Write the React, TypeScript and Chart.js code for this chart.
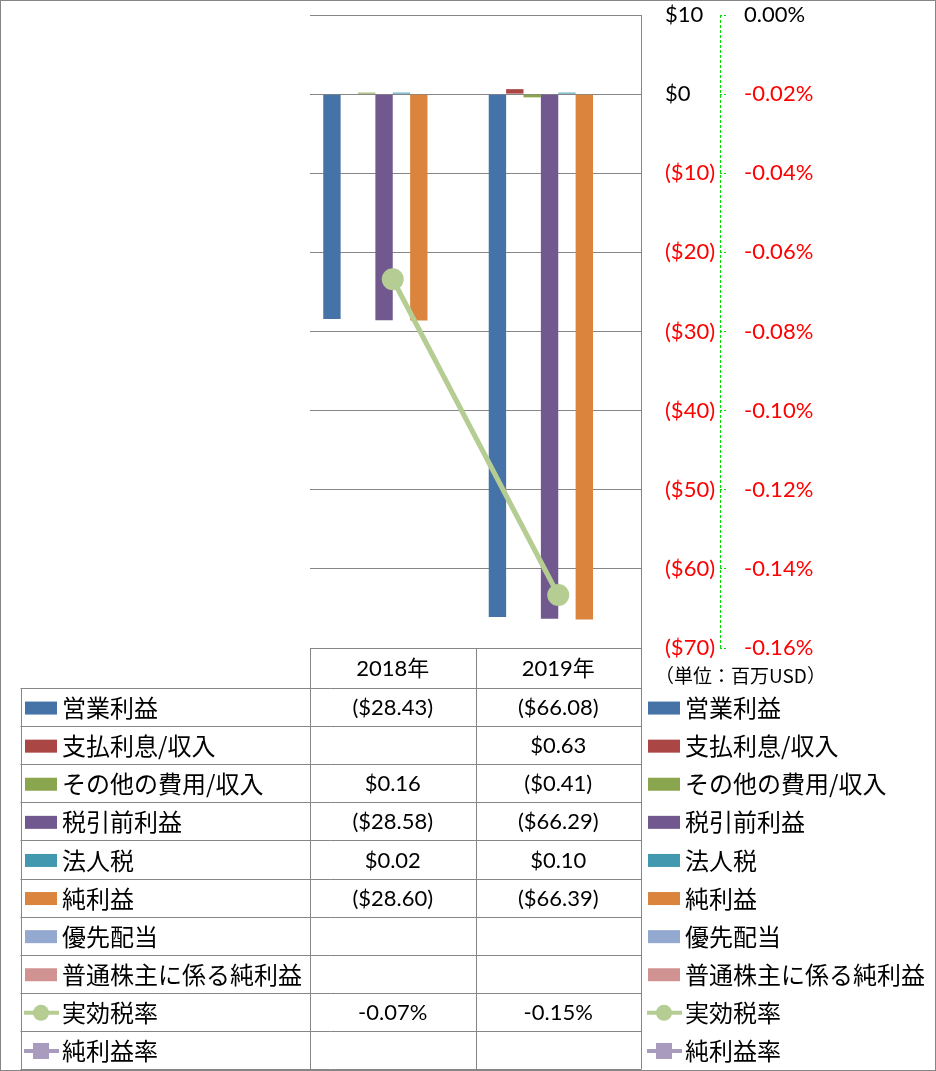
import React, { useEffect, useRef } from 'react';
import { Chart, registerables } from 'chart.js';

Chart.register(...registerables);

// ---- data ----
const categories = ['2018年', '2019年'];
const seriesNames = [
  '営業利益',
  '支払利息/収入',
  'その他の費用/収入',
  '税引前利益',
  '法人税',
  '純利益',
  '優先配当',
  '普通株主に係る純利益',
  '実効税率',
  '純利益率',
];
const operatingIncome: (number | null)[] = [-28.43, -66.08];
const interestIncome: (number | null)[] = [null, 0.63];
const otherExpense: (number | null)[] = [0.16, -0.41];
const preTaxIncome: (number | null)[] = [-28.58, -66.29];
const incomeTax: (number | null)[] = [0.02, 0.1];
const netIncome: (number | null)[] = [-28.6, -66.39];
const preferredDividends: (number | null)[] = [null, null];
const netIncomeCommon: (number | null)[] = [null, null];
const effectiveTaxRate: (number | null)[] = [-0.0668, -0.1466];
const netMargin: (number | null)[] = [null, null];

const usdAxis = { min: -70, max: 10, step: 10 };
const pctAxis = { min: -0.16, max: 0, step: 0.02 };
const unitLabel = '（単位：百万USD）';

// ---- styles ----
const colors = [
  '#4572A7',
  '#AA4643',
  '#89A54E',
  '#71588F',
  '#4198AF',
  '#DB843D',
  '#93A9CF',
  '#D19392',
  '#B5CC92',
  '#A99BBD',
];
const GRAY = '#868686';
const RED = '#FF0000';
const AXIS_GREEN = '#00E000';
const NUM_FONT = 'Lato, "Noto Sans CJK JP", sans-serif';
const JP_FONT = '"Noto Sans CJK JP", sans-serif';

const fmtUsd = (v: number | null) => {
  if (v === null || v === undefined) return '';
  const a = Math.abs(v).toFixed(2);
  return v < 0 ? `($${a})` : `$${a}`;
};
const fmtPct = (v: number | null) => {
  if (v === null || v === undefined) return '';
  return v.toFixed(2) + '%';
};

const barSeries = [
  operatingIncome,
  interestIncome,
  otherExpense,
  preTaxIncome,
  incomeTax,
  netIncome,
  preferredDividends,
  netIncomeCommon,
];
const lineSeries = [effectiveTaxRate, netMargin];

const tablePlugin = {
  id: 'dataTable',
  afterDraw(chart: any) {
    const ctx: CanvasRenderingContext2D = chart.ctx;
    const ca = chart.chartArea;
    const W = chart.width;
    const H = chart.height;
    const n = categories.length;
    const colW = (ca.right - ca.left) / n;
    const edges: number[] = [];
    for (let i = 0; i <= n; i++) edges.push(ca.left + colW * i);
    const headerTop = ca.bottom;
    const headerH = 40;
    const rowsTop = headerTop + headerH;
    const tableBottom = H - 2;
    const rowH = (tableBottom - rowsTop) / seriesNames.length;
    const tableLeft = 20.5;
    const px = (v: number) => Math.round(v) + 0.5;

    ctx.save();
    // dashed secondary axis line
    const s1 = chart.scales.y1;
    ctx.strokeStyle = AXIS_GREEN;
    ctx.lineWidth = 1;
    ctx.setLineDash([3, 2]);
    ctx.beginPath();
    ctx.moveTo(px(s1.left), s1.top);
    ctx.lineTo(px(s1.left), s1.bottom + 0.5);
    ctx.stroke();
    ctx.setLineDash([]);

    ctx.strokeStyle = GRAY;
    ctx.lineWidth = 1;
    // outer border
    ctx.strokeRect(0.5, 0.5, W - 1, H - 1);
    // table lines
    ctx.beginPath();
    edges.forEach((x) => {
      ctx.moveTo(px(x), headerTop);
      ctx.lineTo(px(x), px(tableBottom));
    });
    ctx.moveTo(px(tableLeft), px(rowsTop));
    ctx.lineTo(px(tableLeft), px(tableBottom));
    ctx.moveTo(edges[0], px(headerTop));
    ctx.lineTo(edges[n], px(headerTop));
    for (let r = 0; r <= seriesNames.length; r++) {
      const y = px(rowsTop + r * rowH);
      ctx.moveTo(tableLeft, y);
      ctx.lineTo(edges[n], y);
    }
    ctx.stroke();

    ctx.fillStyle = '#000';
    ctx.textBaseline = 'middle';
    // header
    ctx.textAlign = 'center';
    ctx.font = `22px ${NUM_FONT}`;
    categories.forEach((c, i) => {
      ctx.fillText(c, (edges[i] + edges[i + 1]) / 2, headerTop + headerH / 2 + 1);
    });

    // unit label
    ctx.textAlign = 'left';
    ctx.font = `19px ${JP_FONT}`;
    ctx.fillText(unitLabel, ca.right + 14, headerTop + 28);

    const drawIcon = (idx: number, x: number, cy: number) => {
      const col = colors[idx];
      if (idx < barSeries.length) {
        ctx.fillStyle = col;
        ctx.fillRect(x, cy - 6.5, 32, 13);
      } else {
        ctx.strokeStyle = col;
        ctx.lineWidth = 4;
        ctx.beginPath();
        ctx.moveTo(x - 1, cy);
        ctx.lineTo(x + 34, cy);
        ctx.stroke();
        ctx.fillStyle = col;
        if (idx === barSeries.length) {
          ctx.beginPath();
          ctx.arc(x + 16, cy, 8, 0, Math.PI * 2);
          ctx.fill();
        } else {
          ctx.fillRect(x + 8, cy - 8, 16, 16);
        }
      }
    };

    seriesNames.forEach((name, r) => {
      const cy = rowsTop + r * rowH + rowH / 2 + 1;
      drawIcon(r, 25, cy);
      drawIcon(r, ca.right + 7, cy);
      ctx.fillStyle = '#000';
      ctx.textAlign = 'left';
      ctx.font = `24px ${JP_FONT}`;
      ctx.fillText(name, 62, cy);
      ctx.fillText(name, ca.right + 44, cy);
      ctx.textAlign = 'center';
      ctx.font = `22px ${NUM_FONT}`;
      const isBar = r < barSeries.length;
      const vals = isBar ? barSeries[r] : lineSeries[r - barSeries.length];
      vals.forEach((v, i) => {
        const s = isBar ? fmtUsd(v) : fmtPct(v);
        ctx.fillText(s, (edges[i] + edges[i + 1]) / 2, cy);
      });
    });
    ctx.restore();
  },
};

export default function App() {
  const canvasRef = useRef<HTMLCanvasElement | null>(null);

  useEffect(() => {
    document.body.style.margin = '0';
    const canvas = canvasRef.current;
    if (!canvas) return;

    const barDatasets = barSeries.map((d, i) => ({
      type: 'bar' as const,
      label: seriesNames[i],
      data: d,
      backgroundColor: colors[i],
      yAxisID: 'y',
      barPercentage: 1,
      categoryPercentage: 0.84,
      minBarLength: 1.5,
      order: 2,
    }));
    const lineDatasets = lineSeries.map((d, j) => {
      const i = barSeries.length + j;
      return {
        type: 'line' as const,
        label: seriesNames[i],
        data: d,
        borderColor: colors[i],
        backgroundColor: colors[i],
        borderWidth: 5,
        pointRadius: 11,
        pointStyle: j === 0 ? 'circle' : 'rect',
        pointBorderWidth: 0,
        pointBackgroundColor: colors[i],
        yAxisID: 'y1',
        order: 1,
      };
    });

    const chart = new Chart(canvas, {
      type: 'bar',
      data: {
        labels: categories,
        datasets: [...barDatasets, ...lineDatasets] as any,
      },
      plugins: [tablePlugin],
      options: {
        responsive: false,
        animation: false,
        devicePixelRatio: 1,
        layout: { padding: { left: 310, top: 15, right: 0, bottom: 423 } },
        plugins: {
          legend: { display: false },
          tooltip: { enabled: false },
        },
        scales: {
          x: { display: false },
          y: {
            position: 'right',
            weight: 0,
            min: usdAxis.min,
            max: usdAxis.max,
            ticks: {
              stepSize: usdAxis.step,
              padding: 24,
              font: { family: NUM_FONT, size: 22 },
              color: (c: any) => (c.tick && c.tick.value < 0 ? RED : '#000'),
              callback: (v: any) => {
                const n = Number(v);
                return n < 0 ? `($${Math.abs(n)})` : `$${n}`;
              },
            },
            grid: { color: GRAY, drawTicks: false, lineWidth: 1 },
            border: { display: true, color: GRAY, width: 1 },
            afterFit: (s: any) => {
              s.width = 79;
              s.paddingTop = 0;
              s.paddingBottom = 0;
            },
          },
          y1: {
            position: 'right',
            weight: 1,
            min: pctAxis.min,
            max: pctAxis.max,
            ticks: {
              stepSize: pctAxis.step,
              padding: 18,
              font: { family: NUM_FONT, size: 22 },
              color: (c: any) => (c.tick && c.tick.value < -1e-9 ? RED : '#000'),
              callback: (v: any) => {
                const n = Number(v);
                return (Math.abs(n) < 1e-9 ? 0 : n).toFixed(2) + '%';
              },
            },
            grid: {
              drawOnChartArea: false,
              drawTicks: true,
              tickLength: 6,
              tickColor: AXIS_GREEN,
              tickWidth: 1,
              tickBorderDash: [2, 2],
            },
            border: { display: false },
            afterFit: (s: any) => {
              s.width = 216;
              s.paddingTop = 0;
              s.paddingBottom = 0;
            },
          },
        },
      } as any,
    });
    return () => chart.destroy();
  }, []);

  return (
    <div style={{ position: 'absolute', left: 0, top: 0, width: 936, height: 1071 }}>
      <canvas ref={canvasRef} width={936} height={1071} style={{ display: 'block', width: 936, height: 1071 }} />
    </div>
  );
}
